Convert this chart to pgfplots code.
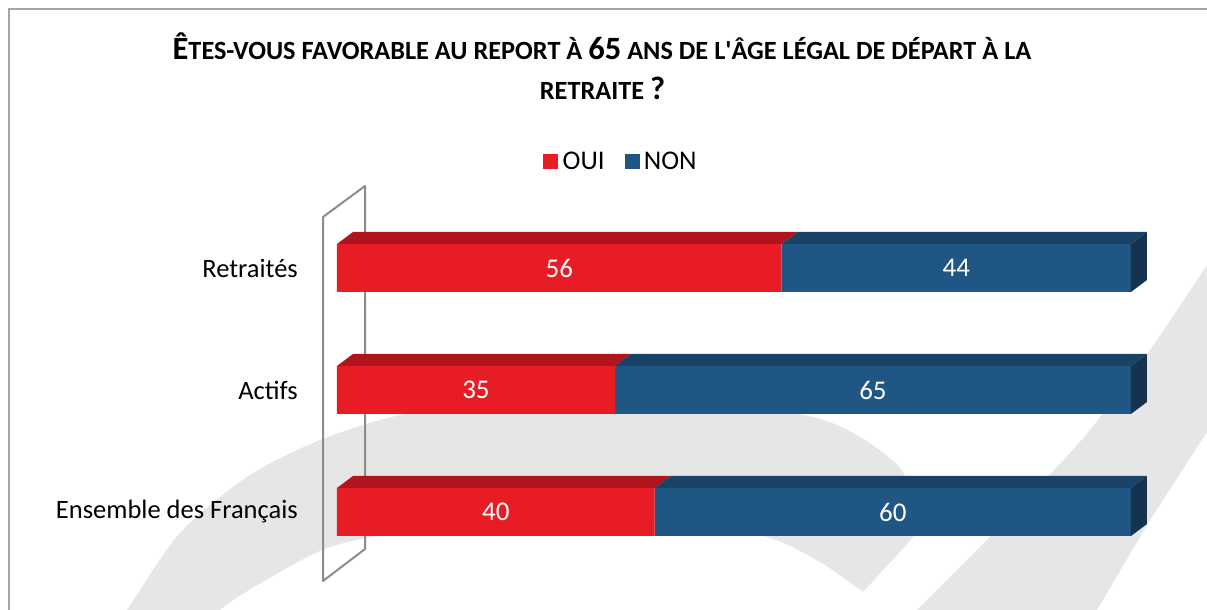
\documentclass[border=0pt]{standalone}
\usepackage{pgfplots}
\pgfplotsset{compat=1.18}
\usepackage{pgfplotstable}
\usepackage{fontspec}
\setmainfont{Carlito}
\definecolor{ouifront}{HTML}{E81C24}
\definecolor{ouitop}{HTML}{B0141D}
\definecolor{nonfront}{HTML}{1F5683}
\definecolor{nontop}{HTML}{1A4266}
\definecolor{nonside}{HTML}{15324F}
\definecolor{wm}{HTML}{E6E6E6}
\definecolor{bordergrey}{HTML}{A6A6A6}
\definecolor{wallgrey}{HTML}{8C8C8C}

\pgfplotstableread{
y oui non
0 40 60
1 35 65
2 56 44
}\data

\newcommand\Bg[1]{{\fontsize{32.5}{38}\selectfont #1}}
\newcommand\Sm[1]{{\fontsize{26.3}{31}\selectfont #1}}

\pgfplotsset{
  base/.style={at={(0pt,0pt)}, anchor=south west, scale only axis,
    width=1207pt, height=610pt,
    xmin=-42.443, xmax=109.572, ymin=-0.8033, ymax=4.1967,
    axis line style={draw=none}, clip=false, xtick=\empty, ytick=\empty}
}

\begin{document}
\begin{tikzpicture}
\useasboundingbox (0,0) rectangle (1207pt,610pt);
\begin{scope}
\clip (0,0) rectangle (1207pt,610pt);
\begin{scope}[yshift=610pt, x=1pt, y=-1pt]
  \fill[white] (0,0) rectangle (1207,610);
  % watermark arch
  \fill[wm] plot[smooth] coordinates {(100,650) (127,610) (180,533) (247,477) (313,443) (380,420) (447,406) (530,398) (620,397) (720,403) (813,417) (860,437) (900,468) (915,505) (917,533)}
     -- (863,592)
     -- plot[smooth] coordinates {(863,592) (820,562) (767,537) (680,522) (590,517) (500,520) (413,530) (333,546) (280,572) (220,610) (195,650)} -- cycle;
  % watermark diagonal stripe
  \fill[wm] (1260,200) -- plot[smooth] coordinates {(1207,265) (1150,350) (1090,430) (1040,485) (980,547) (907,620)} -- (880,650) -- (1060,650)
     -- (1097,610) -- (1150,520) -- (1207,432) -- (1260,350) -- cycle;
  % frame
  \draw[bordergrey, line width=1.5pt] (9,9) rectangle (1240,640);
  % wall
  \draw[wallgrey, line width=2pt, line join=round] (323,217) -- (365,186) -- (365,549) -- (323,581) -- cycle;
  % title
  \node[font=\bfseries, anchor=base, inner sep=0pt] at (602,60) {\Bg{Ê}\Sm{TES-VOUS FAVORABLE AU REPORT À }\Bg{65}\Sm{ ANS DE L\textquotesingle ÂGE LÉGAL DE DÉPART À LA}};
  \node[font=\bfseries, anchor=base, inner sep=0pt] at (602.5,100) {\Sm{RETRAITE }\Bg{?}};
\end{scope}
\end{scope}

% front faces (stacked bars)
\begin{axis}[base, xbar stacked, bar width=48pt,
  ytick={0,1,2}, yticklabels={Ensemble des Français,Actifs,Retraités},
  major tick length=0pt,
  yticklabel style={font=\fontsize{26.5}{30}\selectfont, inner sep=0pt, anchor=east, xshift=298pt}]
  \addplot[fill=ouifront, draw=none] table[x=oui, y=y]{\data};
  \addplot[fill=nonfront, draw=none] table[x=non, y=y]{\data};
\end{axis}

% 3D faces, value labels, legend
\begin{axis}[base,
  legend columns=2,
  legend style={at={(0.5145,0.736)}, anchor=center, draw=none, fill=none,
    font=\fontsize{27}{30}\selectfont,
    /tikz/every even column/.append style={column sep=18pt}},
  legend entries={OUI,NON}]
  \addlegendimage{legend image code/.code={\fill[ouifront] (0pt,-7pt) rectangle (14pt,7pt); \path[draw=none, fill=none] (17pt,0pt) circle (0pt);}}
  \addlegendimage{legend image code/.code={\fill[nonfront] (0pt,-7pt) rectangle (14pt,7pt); \path[draw=none, fill=none] (17pt,0pt) circle (0pt);}}
  % top faces OUI
  \addplot[forget plot, fill=ouitop, draw=none] coordinates {(0,2.1967) (56,2.1967) (58.015,2.2951) (2.015,2.2951)};
  \addplot[forget plot, fill=ouitop, draw=none] coordinates {(0,1.1967) (35,1.1967) (37.015,1.2951) (2.015,1.2951)};
  \addplot[forget plot, fill=ouitop, draw=none] coordinates {(0,0.1967) (40,0.1967) (42.015,0.2951) (2.015,0.2951)};
  % top faces NON
  \addplot[forget plot, fill=nontop, draw=none] coordinates {(56,2.1967) (100,2.1967) (102.015,2.2951) (58.015,2.2951)};
  \addplot[forget plot, fill=nontop, draw=none] coordinates {(35,1.1967) (100,1.1967) (102.015,1.2951) (37.015,1.2951)};
  \addplot[forget plot, fill=nontop, draw=none] coordinates {(40,0.1967) (100,0.1967) (102.015,0.2951) (42.015,0.2951)};
  % side faces NON
  \addplot[forget plot, fill=nonside, draw=none] coordinates {(100,1.8033) (100,2.1967) (102.015,2.2951) (102.015,1.9016)};
  \addplot[forget plot, fill=nonside, draw=none] coordinates {(100,0.8033) (100,1.1967) (102.015,1.2951) (102.015,0.9016)};
  \addplot[forget plot, fill=nonside, draw=none] coordinates {(100,-0.1967) (100,0.1967) (102.015,0.2951) (102.015,-0.0984)};
  % value labels
  \addplot[forget plot, draw=none, mark=none, nodes near coords, point meta=explicit symbolic,
    every node near coord/.append style={anchor=center, text=white, font=\fontsize{27}{30}\selectfont}]
    table[x expr=\thisrow{oui}/2, y=y, meta=oui]{\data};
  \addplot[forget plot, draw=none, mark=none, nodes near coords, point meta=explicit symbolic,
    every node near coord/.append style={anchor=center, text=white, font=\fontsize{27}{30}\selectfont}]
    table[x expr=\thisrow{oui}+\thisrow{non}/2, y=y, meta=non]{\data};
\end{axis}
\end{tikzpicture}
\end{document}
